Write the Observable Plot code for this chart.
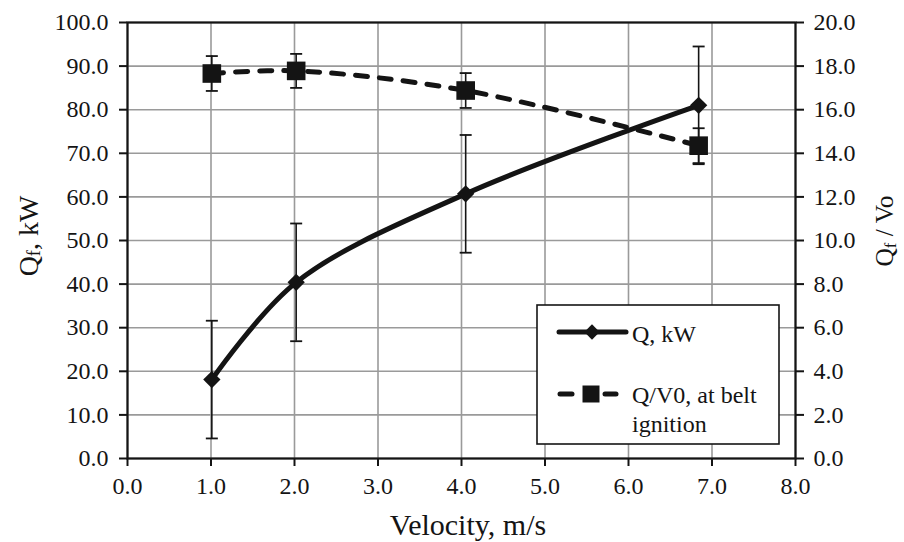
<!DOCTYPE html>
<html><head><meta charset="utf-8">
<script src="https://cdn.jsdelivr.net/npm/d3@7"></script>
<script src="https://cdn.jsdelivr.net/npm/@observablehq/plot@0.6"></script>
<style>
body{margin:0;background:#fff}
#wrap{position:relative;width:904px;height:542px}
</style>
</head><body><div id="wrap"></div>
<script>
// ---- data ----
const velocity = [1.01, 2.02, 4.05, 6.84];          // m/s
const qKW      = [18.1, 40.4, 60.7, 81.0];           // Q, kW (left axis)
const qKWErr   = [13.5, 13.5, 13.5, 13.5];
const qV0      = [17.66, 17.78, 16.88, 14.35];       // Q/V0 (right axis)
const qV0Err   = [0.8, 0.78, 0.8, 0.8];
const xTicks      = [0, 1, 2, 3, 4, 5, 6, 7, 8];
const yLeftTicks  = [0, 10, 20, 30, 40, 50, 60, 70, 80, 90, 100];
const yRightTicks = [0, 2, 4, 6, 8, 10, 12, 14, 16, 18, 20];
const seriesNames = ["Q, kW", "Q/V0, at belt ignition"];
const rightToLeft = 100 / 20;   // right axis maps 0–20 onto 0–100

const rows = velocity.map((v, i) => ({
  v, q: qKW[i], qe: qKWErr[i], r: qV0[i] * rightToLeft, re: qV0Err[i] * rightToLeft
}));

const ink = "#141414";
const font = "'Liberation Serif', 'Times New Roman', serif";
const capSymbol = { draw(ctx, size) { const r = Math.sqrt(size / Math.PI); ctx.moveTo(-r, 0); ctx.lineTo(r, 0); } };

const chart = Plot.plot({
  width: 904, height: 542,
  marginLeft: 127, marginRight: 109, marginTop: 22, marginBottom: 84,
  x: { domain: [0, 8] },
  y: { domain: [0, 100] },
  style: { fontFamily: font, fontSize: "24px", color: ink, background: "#fff" },
  marks: [
    Plot.gridX(xTicks, { stroke: "#9a9a9a", strokeOpacity: 1, strokeWidth: 1.6 }),
    Plot.gridY(yLeftTicks, { stroke: "#9a9a9a", strokeOpacity: 1, strokeWidth: 1.6 }),
    Plot.frame({ stroke: ink, strokeWidth: 2.2 }),
    Plot.axisX({ ticks: xTicks, tickFormat: d => d.toFixed(1), tickSize: 8, tickPadding: 10, label: null, fontSize: 24, strokeWidth: 2 }),
    Plot.axisY({ anchor: "left", ticks: yLeftTicks, tickFormat: d => d.toFixed(1), tickSize: 8, tickPadding: 11, label: null, fontSize: 24, strokeWidth: 2 }),
    Plot.axisY({ anchor: "right", ticks: yRightTicks.map(t => t * rightToLeft), tickFormat: d => (d / rightToLeft).toFixed(1), tickSize: 8, tickPadding: 10, label: null, fontSize: 24, strokeWidth: 2 }),
    // lines
    Plot.line(rows, { x: "v", y: "q", curve: "catmull-rom", stroke: ink, strokeWidth: 5 }),
    Plot.line(rows, { x: "v", y: "r", curve: "catmull-rom", stroke: ink, strokeWidth: 5, strokeDasharray: "12,12", strokeLinecap: "round" }),
    // error bars
    Plot.ruleX(rows, { x: "v", y1: d => d.q - d.qe, y2: d => d.q + d.qe, stroke: ink, strokeWidth: 1.6 }),
    Plot.dot(rows, { x: "v", y: d => d.q - d.qe, symbol: capSymbol, r: 6, stroke: ink, strokeWidth: 1.8, fill: "none" }),
    Plot.dot(rows, { x: "v", y: d => d.q + d.qe, symbol: capSymbol, r: 6, stroke: ink, strokeWidth: 1.8, fill: "none" }),
    Plot.ruleX(rows, { x: "v", y1: d => d.r - d.re, y2: d => d.r + d.re, stroke: ink, strokeWidth: 1.6 }),
    Plot.dot(rows, { x: "v", y: d => d.r - d.re, symbol: capSymbol, r: 6, stroke: ink, strokeWidth: 1.8, fill: "none" }),
    Plot.dot(rows, { x: "v", y: d => d.r + d.re, symbol: capSymbol, r: 6, stroke: ink, strokeWidth: 1.8, fill: "none" }),
    // markers
    Plot.dot(rows, { x: "v", y: "q", symbol: "diamond2", r: 7.8, fill: ink, stroke: "none" }),
    Plot.dot(rows, { x: "v", y: "r", symbol: "square", r: 10.5, fill: ink, stroke: "none" })
  ]
});
document.getElementById("wrap").appendChild(chart);

// ---- axis titles (with subscripts) ----
const svg = d3.select(chart);
const addQf = (x, y, rest, size) => {
  const t = svg.append("text")
    .attr("transform", `translate(${x},${y}) rotate(-90)`)
    .attr("text-anchor", "middle").attr("dominant-baseline", "central")
    .attr("font-family", font).attr("font-size", size).attr("fill", ink);
  t.append("tspan").text("Q");
  t.append("tspan").attr("font-size", size * 0.65).attr("dy", "0.35em").text("f");
  t.append("tspan").attr("dy", "-0.23em").text(rest);
};
addQf(28, 236, ", kW", 28);
addQf(884, 231, " / Vo", 25.5);
svg.append("text").attr("x", 468).attr("y", 535).attr("text-anchor", "middle")
  .attr("font-family", font).attr("font-size", 30).attr("fill", ink).text("Velocity, m/s");

// ---- legend ----
const lg = svg.append("g").attr("font-family", font).attr("font-size", 24).attr("fill", ink)
  .attr("text-anchor", "start");
lg.append("rect").attr("x", 537).attr("y", 305).attr("width", 242).attr("height", 139)
  .attr("fill", "#fff").attr("stroke", ink).attr("stroke-width", 1.6);
lg.append("line").attr("x1", 559).attr("x2", 626).attr("y1", 332).attr("y2", 332)
  .attr("stroke", ink).attr("stroke-width", 5).attr("stroke-linecap", "round");
lg.append("path").attr("transform", "translate(592,332)")
  .attr("d", d3.symbol(d3.symbolDiamond2, 150)()).attr("fill", ink);
lg.append("text").attr("x", 632).attr("y", 342).attr("text-anchor", "start").text(seriesNames[0]);
lg.append("line").attr("x1", 560).attr("x2", 572).attr("y1", 394).attr("y2", 394)
  .attr("stroke", ink).attr("stroke-width", 5).attr("stroke-linecap", "round");
lg.append("line").attr("x1", 605).attr("x2", 616).attr("y1", 394).attr("y2", 394)
  .attr("stroke", ink).attr("stroke-width", 5).attr("stroke-linecap", "round");
lg.append("path").attr("transform", "translate(591,394)")
  .attr("d", d3.symbol(d3.symbolSquare, 17 * 17)()).attr("fill", ink);
const t2 = lg.append("text").attr("x", 632).attr("y", 403).attr("text-anchor", "start");
t2.append("tspan").attr("x", 632).text("Q/V0, at belt");
t2.append("tspan").attr("x", 632).attr("dy", 28.5).text("ignition");
</script>
</body></html>
